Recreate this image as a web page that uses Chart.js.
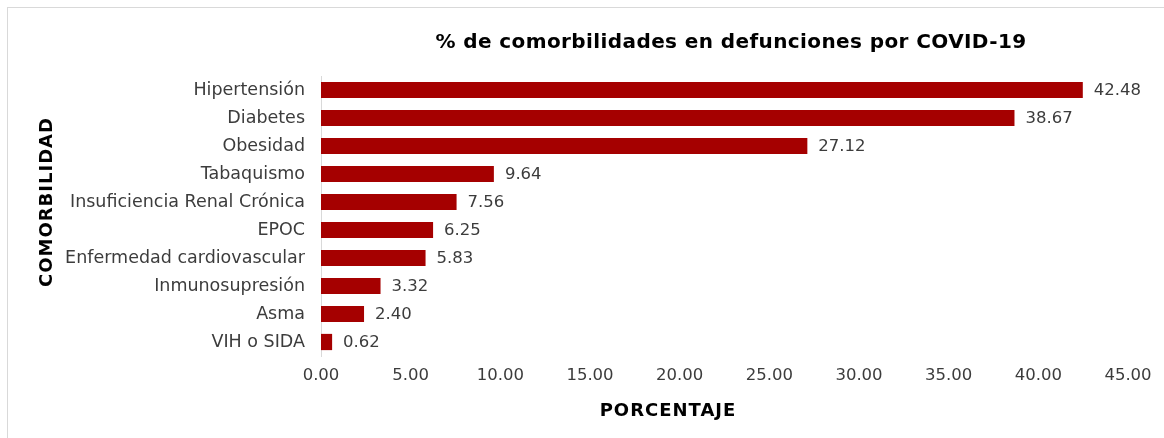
<!DOCTYPE html>
<html>
<head>
<meta charset="utf-8">
<script src="https://cdn.jsdelivr.net/npm/chart.js@4"></script>
<style>
  html, body { margin: 0; padding: 0; background: #fff; }
  #wrap { width: 1164px; height: 438px; }
</style>
</head>
<body>
<div id="wrap"><canvas id="chart" width="1164" height="438"></canvas></div>
<script>
// Categories and values (percent)
const categories = [
  "Hipertensión", "Diabetes", "Obesidad", "Tabaquismo",
  "Insuficiencia Renal Crónica", "EPOC", "Enfermedad cardiovascular",
  "Inmunosupresión", "Asma", "VIH o SIDA"
];
const percentages = [42.48, 38.67, 27.12, 9.64, 7.56, 6.25, 5.83, 3.32, 2.40, 0.62];
const xTicks = [0, 5, 10, 15, 20, 25, 30, 35, 40, 45];

const chartTitle = "% de comorbilidades en defunciones por COVID-19";
const xTitle = "PORCENTAJE";
const yTitle = "COMORBILIDAD";

const labelFont = "'DejaVu Sans', sans-serif";
const textGray = "#3c3c3c";

// Frame, titles and value labels drawn by hand
const decorations = {
  id: "decorations",
  beforeDraw(chart) {
    const ctx = chart.ctx;
    ctx.save();
    ctx.fillStyle = "#fff";
    ctx.fillRect(0, 0, chart.width, chart.height);
    ctx.strokeStyle = "#d9d9d9";
    ctx.lineWidth = 1;
    ctx.strokeRect(7.5, 7.5, chart.width + 10, chart.height + 10);
    ctx.restore();
  },
  afterDatasetsDraw(chart) {
    const ctx = chart.ctx;
    ctx.save();

    // value labels
    ctx.font = "16.5px " + labelFont;
    ctx.fillStyle = textGray;
    ctx.textAlign = "left";
    ctx.textBaseline = "middle";
    chart.getDatasetMeta(0).data.forEach((bar, i) => {
      ctx.fillText(percentages[i].toFixed(2), bar.x + 11, bar.y + 1);
    });

    // chart title
    ctx.fillStyle = "#000";
    ctx.font = "bold 20px 'DejaVu Sans', sans-serif";
    ctx.letterSpacing = "0.4px";
    ctx.textAlign = "center";
    ctx.fillText(chartTitle, 731, 43);

    // axis titles
    ctx.font = "bold 18px " + labelFont;
    ctx.letterSpacing = "1px";
    ctx.fillText(xTitle, 668, 411);
    ctx.translate(47, 202);
    ctx.rotate(-Math.PI / 2);
    ctx.fillText(yTitle, 0, 0);
    ctx.restore();
  }
};

new Chart(document.getElementById("chart"), {
  type: "bar",
  data: {
    labels: categories,
    datasets: [{
      data: percentages,
      backgroundColor: "#a50000",
      borderWidth: 0,
      barPercentage: 0.58,
      categoryPercentage: 1
    }]
  },
  options: {
    indexAxis: "y",
    responsive: false,
    animation: false,
    layout: { padding: { top: 76, right: 36, left: 0, bottom: 0 } },
    plugins: {
      legend: { display: false },
      tooltip: { enabled: false }
    },
    scales: {
      x: {
        min: 0,
        max: 45,
        afterBuildTicks: (scale) => {
          scale.ticks = xTicks.map(v => ({ value: v }));
        },
        afterFit: (scale) => { scale.height = 82; },
        grid: { display: false, drawTicks: false },
        border: { display: false },
        ticks: {
          padding: 10,
          color: textGray,
          font: { family: labelFont, size: 16.5 },
          callback: (v) => Number(v).toFixed(2)
        }
      },
      y: {
        afterFit: (scale) => { scale.width = 321; },
        grid: { display: false, drawTicks: false },
        border: { display: true, color: "#d9d9d9" },
        ticks: {
          padding: 16,
          color: textGray,
          font: { family: labelFont, size: 17.5 }
        }
      }
    }
  },
  plugins: [decorations]
});
</script>
</body>
</html>
